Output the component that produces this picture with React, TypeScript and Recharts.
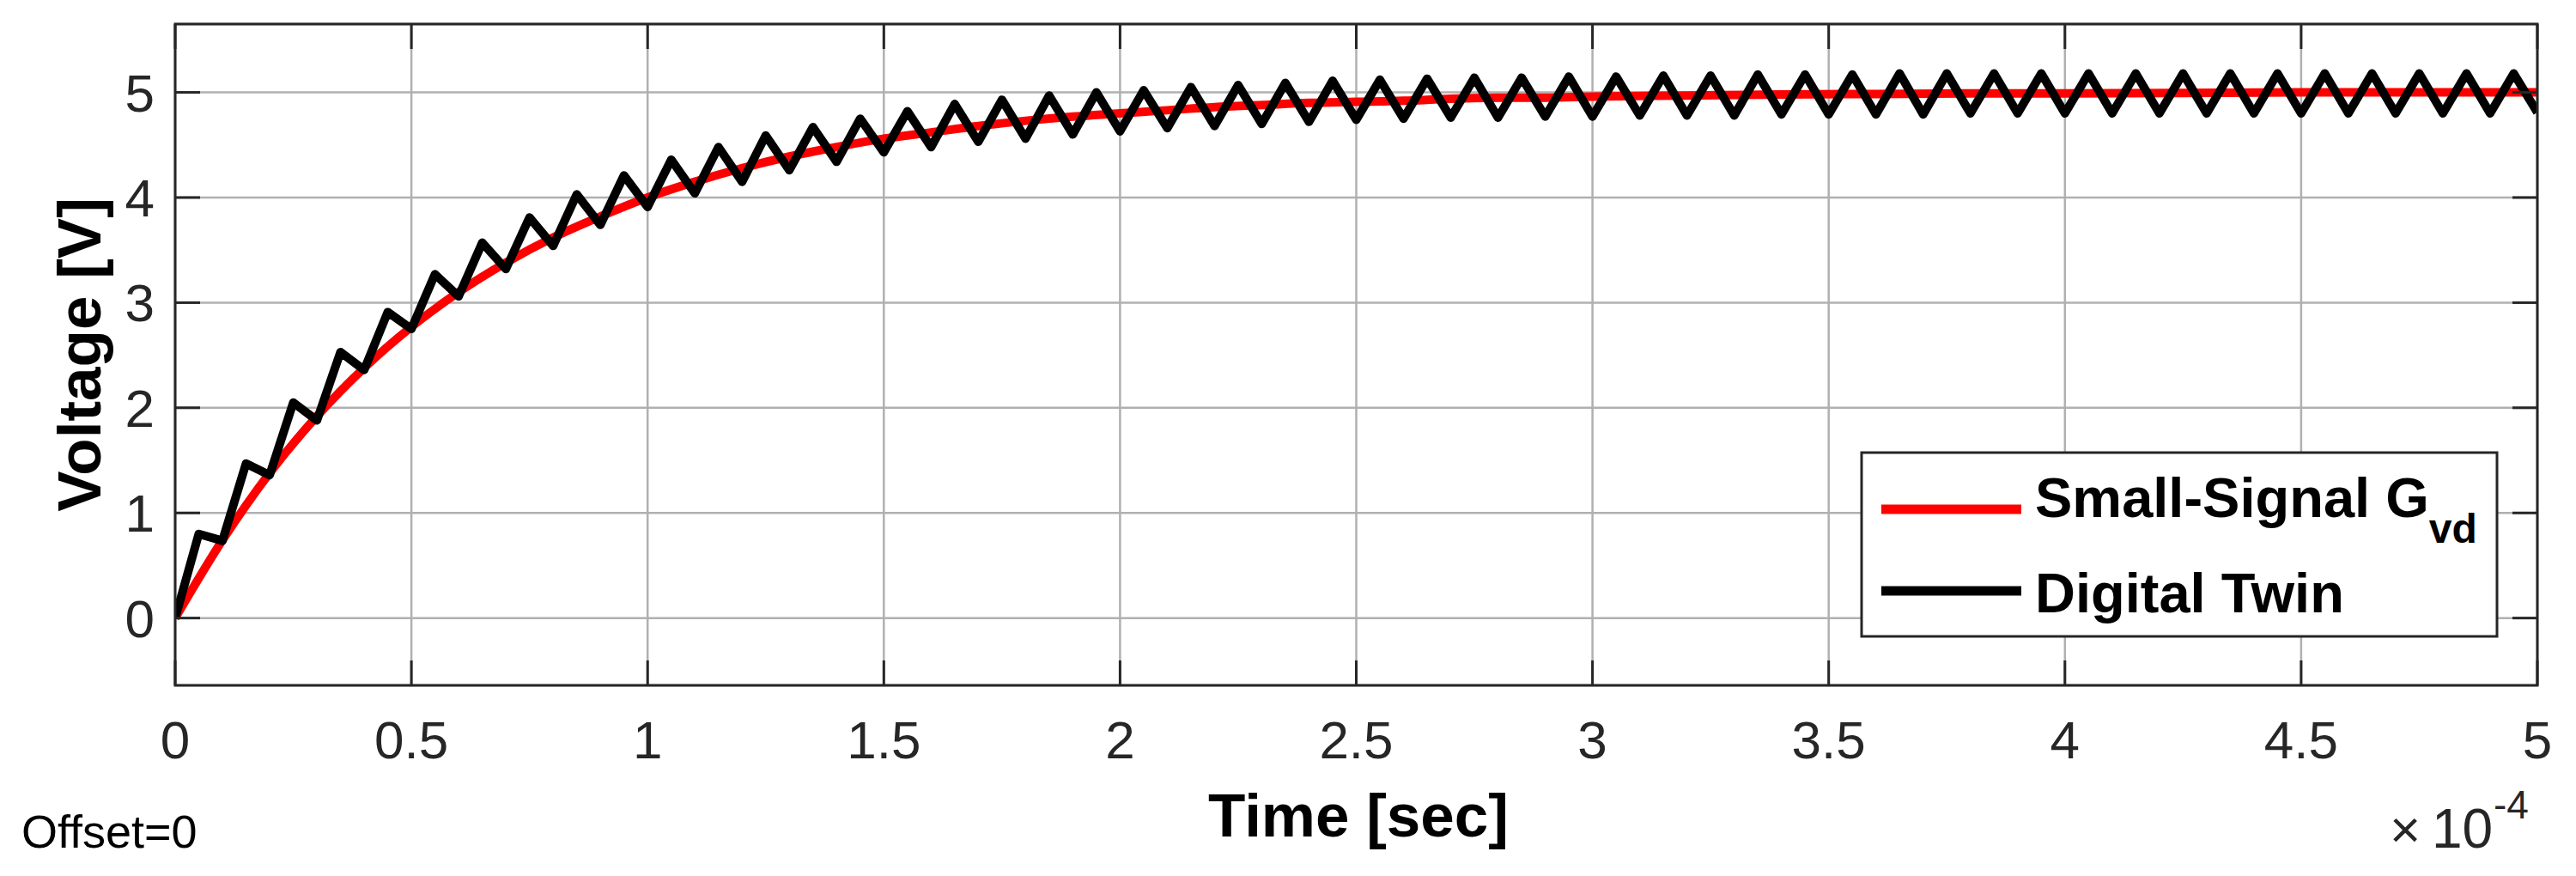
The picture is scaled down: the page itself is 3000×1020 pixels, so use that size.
import { CartesianGrid, Line, LineChart, XAxis, YAxis } from "recharts";

// time axis is in units of 1e-4 s (shown with the ×10^-4 exponent label)
const xTicks = [0, 0.5, 1, 1.5, 2, 2.5, 3, 3.5, 4, 4.5, 5];
const yTicks = [0, 1, 2, 3, 4, 5];

// Small-signal Gvd step response (red)
const redTime = [0, 0.1, 0.2, 0.3, 0.4, 0.5, 0.6, 0.7, 0.8, 0.9, 1.0, 1.1, 1.2, 1.3, 1.4, 1.5, 1.6, 1.7, 1.8, 1.9, 2.0, 2.1, 2.2, 2.3, 2.4, 2.5, 2.6, 2.7, 2.8, 2.9, 3.0, 3.2, 3.4, 3.6, 3.8, 4.0, 4.5, 5.0];
const redVolt = [0, 0.74, 1.38, 1.92, 2.38, 2.77, 3.1, 3.38, 3.62, 3.82, 4.0, 4.15, 4.28, 4.39, 4.48, 4.56, 4.62, 4.68, 4.73, 4.77, 4.8, 4.83, 4.86, 4.88, 4.9, 4.91, 4.92, 4.94, 4.95, 4.95, 4.96, 4.97, 4.98, 4.985, 4.99, 4.99, 5.0, 5.0];

// Digital twin ripple: valleys at the start of each switching period, peaks mid-period
const valleyTime = [0, 0.1, 0.2, 0.3, 0.4, 0.5, 0.6, 0.7, 0.8, 0.9, 1.0, 1.1, 1.2, 1.3, 1.4, 1.5, 1.6, 1.7, 1.8, 1.9, 2.0, 2.1, 2.2, 2.3, 2.4, 2.5, 2.6, 2.7, 2.8, 2.9, 3.0, 3.1, 3.2, 3.3, 3.4, 3.5, 3.6, 3.7, 3.8, 3.9, 4.0, 4.1, 4.2, 4.3, 4.4, 4.5, 4.6, 4.7, 4.8, 4.9, 5.0];
const valleyVolt = [0, 0.735, 1.36, 1.88, 2.36, 2.75, 3.06, 3.32, 3.54, 3.74, 3.91, 4.04, 4.15, 4.26, 4.34, 4.43, 4.48, 4.53, 4.56, 4.6, 4.63, 4.66, 4.68, 4.7, 4.72, 4.74, 4.75, 4.76, 4.76, 4.77, 4.77, 4.78, 4.78, 4.78, 4.79, 4.79, 4.79, 4.79, 4.8, 4.8, 4.8, 4.8, 4.8, 4.8, 4.8, 4.8, 4.8, 4.8, 4.8, 4.8, 4.81];
const peakTime = [0.05, 0.15, 0.25, 0.35, 0.45, 0.55, 0.65, 0.75, 0.85, 0.95, 1.05, 1.15, 1.25, 1.35, 1.45, 1.55, 1.65, 1.75, 1.85, 1.95, 2.05, 2.15, 2.25, 2.35, 2.45, 2.55, 2.65, 2.75, 2.85, 2.95, 3.05, 3.15, 3.25, 3.35, 3.45, 3.55, 3.65, 3.75, 3.85, 3.95, 4.05, 4.15, 4.25, 4.35, 4.45, 4.55, 4.65, 4.75, 4.85, 4.95];
const peakVolt = [0.8, 1.47, 2.05, 2.53, 2.91, 3.27, 3.57, 3.81, 4.03, 4.21, 4.36, 4.48, 4.59, 4.67, 4.75, 4.82, 4.89, 4.93, 4.97, 5.0, 5.02, 5.05, 5.07, 5.09, 5.11, 5.12, 5.13, 5.14, 5.14, 5.15, 5.15, 5.16, 5.16, 5.17, 5.17, 5.17, 5.18, 5.18, 5.18, 5.18, 5.18, 5.18, 5.18, 5.18, 5.18, 5.18, 5.18, 5.18, 5.18, 5.18];

const redData = redTime.map((t, i) => ({ t, v: redVolt[i] }));
const twinData = [
  ...valleyTime.map((t, i) => ({ t, v: valleyVolt[i] })),
  ...peakTime.map((t, i) => ({ t, v: peakVolt[i] })),
].sort((a, b) => a.t - b.t);

const W = 3000;
const H = 1020;
const PLOT_LEFT = 204;
const PLOT_RIGHT = 2955;
const PLOT_TOP = 28;
const PLOT_BOTTOM = 798;
const TICK_LEN = 29;
const FONT = "'Liberation Sans', Arial, Helvetica, sans-serif";
const AX = "#262626";

function XTick(props: any) {
  const { x, y, payload } = props;
  return (
    <g>
      <line x1={x} y1={y} x2={x} y2={y - TICK_LEN} stroke={AX} strokeWidth={3} />
      <line x1={x} y1={PLOT_TOP} x2={x} y2={PLOT_TOP + TICK_LEN} stroke={AX} strokeWidth={3} />
      <text x={x} y={y + 85} textAnchor="middle" fontSize={62} fill={AX} fontFamily={FONT}>
        {payload.value}
      </text>
    </g>
  );
}

function YTick(props: any) {
  const { x, y, payload } = props;
  return (
    <g>
      <line x1={x} y1={y} x2={x + TICK_LEN} y2={y} stroke={AX} strokeWidth={3} />
      <line x1={PLOT_RIGHT} y1={y} x2={PLOT_RIGHT - TICK_LEN} y2={y} stroke={AX} strokeWidth={3} />
      <text x={x - 24} y={y + 22} textAnchor="end" fontSize={62} fill={AX} fontFamily={FONT}>
        {payload.value}
      </text>
    </g>
  );
}

export default function App() {
  return (
    <div style={{ position: "absolute", left: 0, top: 0, width: W, height: H, background: "#fff" }}>
      <LineChart
        width={W}
        height={H}
        margin={{ top: PLOT_TOP, right: W - PLOT_RIGHT, bottom: 0, left: 0 }}
      >
        <CartesianGrid stroke="#b0b0b0" strokeWidth={2.5} />
        <XAxis
          dataKey="t"
          type="number"
          domain={[0, 5]}
          ticks={xTicks}
          interval={0}
          height={H - PLOT_BOTTOM}
          axisLine={false}
          tickLine={false}
          tickSize={0}
          tickMargin={0}
          tick={<XTick />}
          allowDataOverflow
        />
        <YAxis
          type="number"
          domain={[-0.64, 5.65]}
          ticks={yTicks}
          interval={0}
          width={PLOT_LEFT}
          axisLine={false}
          tickLine={false}
          tickSize={0}
          tickMargin={0}
          tick={<YTick />}
          allowDataOverflow
        />
        <Line
          data={redData}
          dataKey="v"
          type="monotone"
          stroke="#ff0000"
          strokeWidth={10}
          dot={false}
          activeDot={false}
          isAnimationActive={false}
        />
        <Line
          data={twinData}
          dataKey="v"
          type="linear"
          stroke="#000000"
          strokeWidth={10}
          strokeLinejoin="round"
          dot={false}
          activeDot={false}
          isAnimationActive={false}
        />
      </LineChart>
      <svg
        width={W}
        height={H}
        style={{ position: "absolute", left: 0, top: 0, pointerEvents: "none" }}
        fontFamily={FONT}
      >
        <rect
          x={PLOT_LEFT}
          y={PLOT_TOP}
          width={PLOT_RIGHT - PLOT_LEFT}
          height={PLOT_BOTTOM - PLOT_TOP}
          fill="none"
          stroke={AX}
          strokeWidth={3}
        />
        {/* legend */}
        <rect x={2168} y={527} width={740} height={214} fill="#fff" stroke={AX} strokeWidth={3} />
        <line x1={2191} y1={593} x2={2354} y2={593} stroke="#ff0000" strokeWidth={11} />
        <line x1={2191} y1={688} x2={2354} y2={688} stroke="#000" strokeWidth={11} />
        <text x={2370} y={602} fontSize={65} fontWeight="bold" fill="#000">
          Small-Signal G
          <tspan dy={30} fontSize={48}>vd</tspan>
        </text>
        <text x={2370} y={713} fontSize={65} fontWeight="bold" fill="#000">
          Digital Twin
        </text>
        {/* axis labels */}
        <text x={1582} y={974} fontSize={71} fontWeight="bold" textAnchor="middle" fill="#000">
          Time [sec]
        </text>
        <text
          x={117}
          y={413}
          fontSize={71}
          fontWeight="bold"
          textAnchor="middle"
          fill="#000"
          transform="rotate(-90 117 413)"
        >
          Voltage [V]
        </text>
        <text x={25} y={987} fontSize={54} fill="#000">
          Offset=0
        </text>
        <text x={2783} y={987} fontSize={62} fill={AX}>
          ×
        </text>
        <text x={2832} y={987} fontSize={64} fill={AX}>
          10
        </text>
        <text x={2904} y={953} fontSize={46} fill={AX}>
          -4
        </text>
      </svg>
    </div>
  );
}
